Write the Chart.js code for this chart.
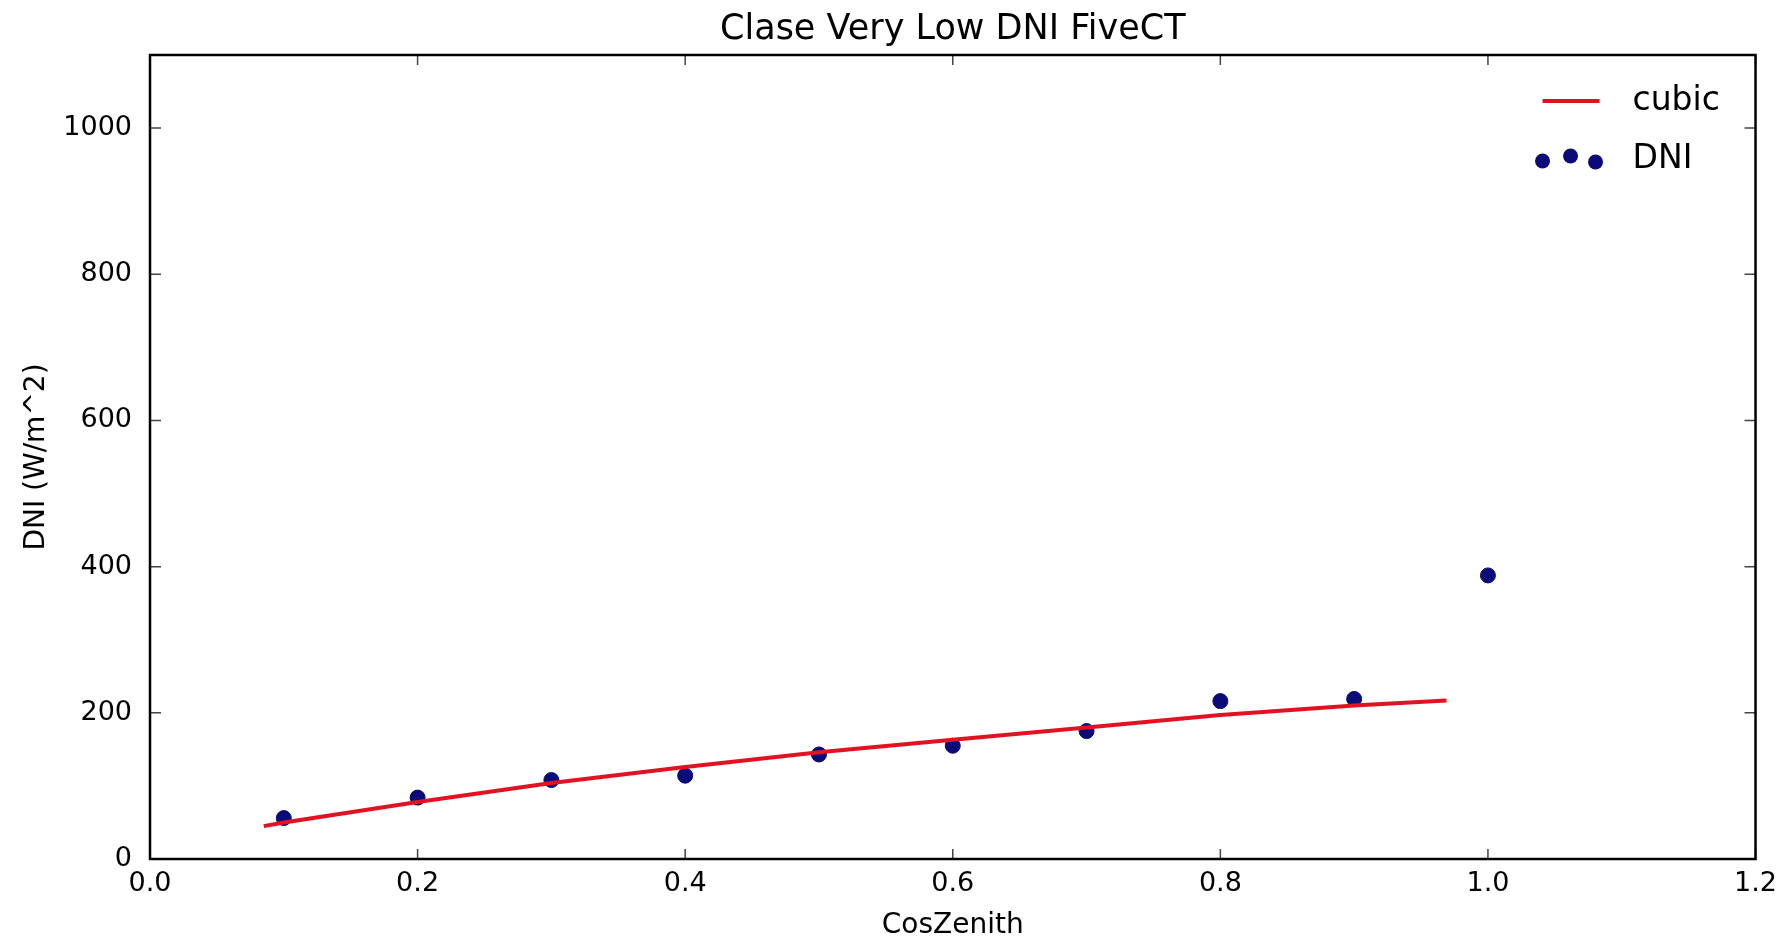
<!DOCTYPE html>
<html>
<head>
<meta charset="utf-8">
<script src="https://cdn.jsdelivr.net/npm/chart.js@4.4.1/dist/chart.umd.min.js"></script>
<style>
  body { margin: 0; background: #fff; }
  #wrap { width: 1786px; height: 944px; }
</style>
</head>
<body>
<div id="wrap"><canvas id="myChart"></canvas></div>
<script>
// valores
var cosZenith = [0.1, 0.2, 0.3, 0.4, 0.5, 0.6, 0.7, 0.8, 0.9, 1.0];
var dni = [56, 84, 108, 114, 143, 155, 175, 216, 219, 388];

// curva del ajuste cubico
var cubicX = [0.085, 0.1, 0.2, 0.3, 0.4, 0.5, 0.6, 0.7, 0.8, 0.9, 0.969];
var cubicY = [45, 50, 78, 104, 126, 146, 163, 180, 197, 210, 217];

var xTicks = [0, 0.2, 0.4, 0.6, 0.8, 1.0, 1.2];
var yTicks = [0, 200, 400, 600, 800, 1000];

var FONT = 'DejaVu Sans';
var red = 'rgb(226, 18, 34)';
var navy = 'rgb(10, 10, 120)';

function pairs(xs, ys) {
  var out = [];
  for (var i = 0; i < xs.length; i++) out.push({x: xs[i], y: ys[i]});
  return out;
}

// marco, ticks hacia dentro y leyenda estilo matplotlib
var frame = {
  id: 'frame',
  afterDraw: function(chart) {
    var ctx = chart.ctx, a = chart.chartArea;
    var sx = chart.scales.x, sy = chart.scales.y;
    ctx.save();
    ctx.strokeStyle = '#444';
    ctx.lineWidth = 1.5;
    ctx.beginPath();
    xTicks.forEach(function(v) {
      var px = sx.getPixelForValue(v);
      ctx.moveTo(px, a.bottom); ctx.lineTo(px, a.bottom - 10);
      ctx.moveTo(px, a.top); ctx.lineTo(px, a.top + 10);
    });
    yTicks.forEach(function(v) {
      var py = sy.getPixelForValue(v);
      ctx.moveTo(a.left, py); ctx.lineTo(a.left + 11, py);
      ctx.moveTo(a.right, py); ctx.lineTo(a.right - 11, py);
    });
    ctx.stroke();
    ctx.strokeStyle = '#000';
    ctx.lineWidth = 2.5;
    ctx.strokeRect(a.left, a.top, a.right - a.left, a.bottom - a.top);

    // leyenda
    var lx = a.right - 213, y1 = a.top + 46, y2 = a.top + 104;
    ctx.strokeStyle = red;
    ctx.lineWidth = 4;
    ctx.beginPath();
    ctx.moveTo(lx, y1); ctx.lineTo(lx + 57, y1);
    ctx.stroke();
    ctx.fillStyle = navy;
    [[0, 2], [28, -3], [53, 3]].forEach(function(d) {
      ctx.beginPath();
      ctx.arc(lx + d[0], y2 + d[1], 7.5, 0, Math.PI * 2);
      ctx.fill();
    });
    ctx.fillStyle = '#000';
    ctx.font = '33px "' + FONT + '"';
    ctx.textBaseline = 'middle';
    ctx.fillText('cubic', lx + 90, y1);
    ctx.fillText('DNI', lx + 90, y2);
    ctx.restore();
  }
};

var ctx = document.getElementById('myChart').getContext('2d');
var myChart = new Chart(ctx, {
  type: 'scatter',
  data: {
    datasets: [{
      label: 'cubic',
      data: pairs(cubicX, cubicY),
      showLine: true,
      borderColor: red,
      borderWidth: 4,
      pointRadius: 0,
      fill: false
    }, {
      label: 'DNI',
      data: pairs(cosZenith, dni),
      backgroundColor: navy,
      borderColor: navy,
      pointRadius: 7.5,
      pointHoverRadius: 7.5
    }]
  },
  options: {
    responsive: true,
    maintainAspectRatio: false,
    animation: false,
    layout: { padding: { left: 17, right: 28, top: 0, bottom: 0 } },
    plugins: {
      legend: { display: false },
      tooltip: { enabled: false },
      title: {
        display: true,
        fullSize: false,
        text: 'Clase Very Low DNI FiveCT',
        color: '#000',
        font: { family: FONT, size: 35, weight: 'normal' },
        padding: { top: 9, bottom: 4 }
      }
    },
    scales: {
      x: {
        type: 'linear',
        min: 0, max: 1.2,
        grid: { display: false, drawTicks: false },
        border: { display: false },
        ticks: {
          stepSize: 0.2,
          padding: 9,
          color: '#000',
          font: { family: FONT, size: 27 },
          callback: function(v) { return v.toFixed(1); }
        },
        title: {
          display: true, text: 'CosZenith', color: '#000',
          font: { family: FONT, size: 28 },
          padding: { top: 0, bottom: 1 }
        },
        afterFit: function(s) { s.height = 85; }
      },
      y: {
        min: 0, max: 1100,
        grid: { display: false, drawTicks: false },
        border: { display: false },
        ticks: {
          stepSize: 200,
          includeBounds: false,
          padding: 18,
          color: '#000',
          font: { family: FONT, size: 27 },
          callback: function(v) { return String(v); }
        },
        title: {
          display: true, text: 'DNI (W/m^2)', color: '#000',
          font: { family: FONT, size: 28 },
          padding: { top: 3, bottom: 0 }
        },
        afterFit: function(s) { s.width = 133; }
      }
    }
  },
  plugins: [frame]
});
</script>
</body>
</html>
